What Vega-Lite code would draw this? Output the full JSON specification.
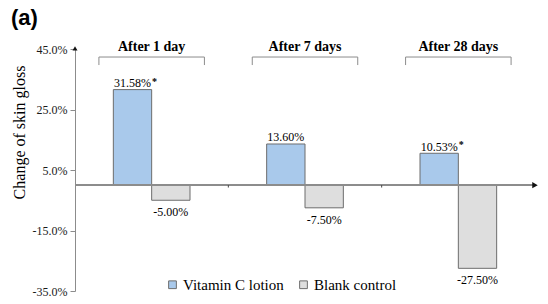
{
  "$schema": "https://vega.github.io/schema/vega-lite/v6.json",
  "width": 460,
  "height": 242,
  "autosize": "none",
  "padding": {"left": 75, "top": 49, "right": 13, "bottom": 13},
  "background": "white",
  "title": {"text": "(a)", "anchor": "start", "frame": "group", "dx": -64, "offset": 10, "font": "Liberation Sans", "fontSize": 22, "fontWeight": "bold", "color": "black"},
  "data": {
    "values": [
      {"day": "After 1 day", "group": "Vitamin C lotion", "value": 0.3158, "label": "31.58%", "star": "*"},
      {"day": "After 1 day", "group": "Blank control", "value": -0.05, "label": "-5.00%", "star": ""},
      {"day": "After 7 days", "group": "Vitamin C lotion", "value": 0.136, "label": "13.60%", "star": ""},
      {"day": "After 7 days", "group": "Blank control", "value": -0.075, "label": "-7.50%", "star": ""},
      {"day": "After 28 days", "group": "Vitamin C lotion", "value": 0.1053, "label": "10.53%", "star": "*"},
      {"day": "After 28 days", "group": "Blank control", "value": -0.275, "label": "-27.50%", "star": ""}
    ]
  },
  "config": {
    "view": {"stroke": null},
    "font": "Liberation Serif",
    "axis": {
      "labelFont": "Liberation Serif", "labelFontSize": 12, "labelColor": "#1a1a1a",
      "domainColor": "#8c8c8c", "tickColor": "#8c8c8c", "tickSize": 5, "labelPadding": 3, "grid": false,
      "titleFont": "Liberation Serif", "titleFontSize": 16, "titleFontWeight": "normal", "titleColor": "black"
    },
    "legend": {"labelFont": "Liberation Serif"}
  },
  "layer": [
    {
      "mark": {"type": "bar", "stroke": "#6d6d6d", "strokeWidth": 1},
      "encoding": {
        "x": {"field": "day", "type": "nominal", "sort": ["After 1 day", "After 7 days", "After 28 days"], "scale": {"paddingInner": 0, "paddingOuter": 0}, "axis": null},
        "xOffset": {"field": "group", "type": "nominal", "sort": ["Vitamin C lotion", "Blank control"], "scale": {"paddingInner": 0, "paddingOuter": 1.08}},
        "y": {"field": "value", "type": "quantitative", "scale": {"domain": [-0.35, 0.45], "nice": false, "zero": false},
          "axis": {"values": [-0.35, -0.15, 0.05, 0.25, 0.45], "labelExpr": "replace(format(datum.value, '.1%'), '\u2212', '-')", "labelFont": "Liberation Serif", "titleFont": "Liberation Serif", "title": "Change of skin gloss", "titleX": -48, "titleY": 83}},
        "color": {"field": "group", "type": "nominal",
          "scale": {"domain": ["Vitamin C lotion", "Blank control"], "range": ["#a9c9eb", "#dedede"]},
          "legend": {"title": null, "orient": "none", "legendX": 90, "legendY": 228, "direction": "horizontal", "symbolType": "square", "symbolSize": 60, "symbolStrokeColor": "#6d6d6d", "symbolStrokeWidth": 1, "labelFont": "Liberation Serif", "labelFontSize": 15, "labelColor": "black", "columnPadding": 12, "labelOffset": 3, "padding": 0}}
      }
    },
    {
      "mark": {"type": "rule", "color": "#8c8c8c", "strokeWidth": 1.2},
      "encoding": {"y": {"datum": 0, "type": "quantitative"}}
    },
    {
      "transform": [{"filter": "datum.group == 'Vitamin C lotion' && datum.day != 'After 1 day'"}],
      "mark": {"type": "rule", "color": "#444", "strokeWidth": 1},
      "encoding": {
        "x": {"field": "day", "type": "nominal", "sort": ["After 1 day", "After 7 days", "After 28 days"], "bandPosition": 0},
        "y": {"datum": 0, "type": "quantitative"},
        "y2": {"datum": -0.008}
      }
    },
    {
      "transform": [{"filter": "datum.group == 'Blank control' && datum.day == 'After 28 days'"}],
      "mark": {"type": "point", "shape": "triangle-right", "filled": true, "color": "#111", "size": 40, "opacity": 1},
      "encoding": {
        "x": {"field": "day", "type": "nominal", "sort": ["After 1 day", "After 7 days", "After 28 days"], "bandPosition": 1},
        "y": {"datum": 0, "type": "quantitative"}
      }
    },
    {
      "transform": [{"filter": "datum.group == 'Vitamin C lotion' && datum.day == 'After 1 day'"}],
      "mark": {"type": "point", "shape": "triangle-up", "filled": true, "color": "#111", "size": 25, "opacity": 1},
      "encoding": {
        "x": {"field": "day", "type": "nominal", "sort": ["After 1 day", "After 7 days", "After 28 days"], "bandPosition": 0},
        "y": {"datum": 0.452, "type": "quantitative"}
      }
    },
    {
      "transform": [{"filter": "datum.group == 'Vitamin C lotion'"}],
      "mark": {"type": "rule", "color": "#8c8c8c", "strokeWidth": 1},
      "encoding": {
        "x": {"field": "day", "type": "nominal", "sort": ["After 1 day", "After 7 days", "After 28 days"], "bandPosition": 0.156},
        "x2": {"field": "day", "bandPosition": 0.844},
        "y": {"datum": 0.4235, "type": "quantitative"}
      }
    },
    {
      "transform": [{"filter": "datum.group == 'Vitamin C lotion'"}],
      "mark": {"type": "rule", "color": "#8c8c8c", "strokeWidth": 1},
      "encoding": {
        "x": {"field": "day", "type": "nominal", "sort": ["After 1 day", "After 7 days", "After 28 days"], "bandPosition": 0.156},
        "y": {"datum": 0.4235, "type": "quantitative"},
        "y2": {"datum": 0.397}
      }
    },
    {
      "transform": [{"filter": "datum.group == 'Vitamin C lotion'"}],
      "mark": {"type": "rule", "color": "#8c8c8c", "strokeWidth": 1},
      "encoding": {
        "x": {"field": "day", "type": "nominal", "sort": ["After 1 day", "After 7 days", "After 28 days"], "bandPosition": 0.844},
        "y": {"datum": 0.4235, "type": "quantitative"},
        "y2": {"datum": 0.397}
      }
    },
    {
      "transform": [{"filter": "datum.group == 'Vitamin C lotion'"}],
      "mark": {"type": "text", "font": "Liberation Serif", "fontSize": 14, "fontWeight": "bold", "color": "black", "baseline": "middle"},
      "encoding": {
        "x": {"field": "day", "type": "nominal", "sort": ["After 1 day", "After 7 days", "After 28 days"]},
        "y": {"datum": 0.457, "type": "quantitative"},
        "text": {"field": "day"}
      }
    },
    {
      "transform": [{"filter": "datum.value > 0"}],
      "mark": {"type": "text", "font": "Liberation Serif", "fontSize": 12, "color": "black", "baseline": "alphabetic", "dy": -2.5},
      "encoding": {
        "x": {"field": "day", "type": "nominal", "sort": ["After 1 day", "After 7 days", "After 28 days"]},
        "xOffset": {"field": "group", "type": "nominal", "sort": ["Vitamin C lotion", "Blank control"]},
        "y": {"field": "value", "type": "quantitative"},
        "text": {"field": "label"}
      }
    },
    {
      "transform": [{"filter": "datum.value > 0"}],
      "mark": {"type": "text", "font": "Liberation Serif", "fontSize": 10, "fontWeight": "bold", "color": "black", "baseline": "alphabetic", "align": "left", "dx": 19.5, "dy": -5},
      "encoding": {
        "x": {"field": "day", "type": "nominal", "sort": ["After 1 day", "After 7 days", "After 28 days"]},
        "xOffset": {"field": "group", "type": "nominal", "sort": ["Vitamin C lotion", "Blank control"]},
        "y": {"field": "value", "type": "quantitative"},
        "text": {"field": "star"}
      }
    },
    {
      "transform": [{"filter": "datum.value < 0"}],
      "mark": {"type": "text", "font": "Liberation Serif", "fontSize": 12, "color": "black", "baseline": "alphabetic", "dy": 16},
      "encoding": {
        "x": {"field": "day", "type": "nominal", "sort": ["After 1 day", "After 7 days", "After 28 days"]},
        "xOffset": {"field": "group", "type": "nominal", "sort": ["Vitamin C lotion", "Blank control"]},
        "y": {"field": "value", "type": "quantitative"},
        "text": {"field": "label"}
      }
    }
  ]
}
